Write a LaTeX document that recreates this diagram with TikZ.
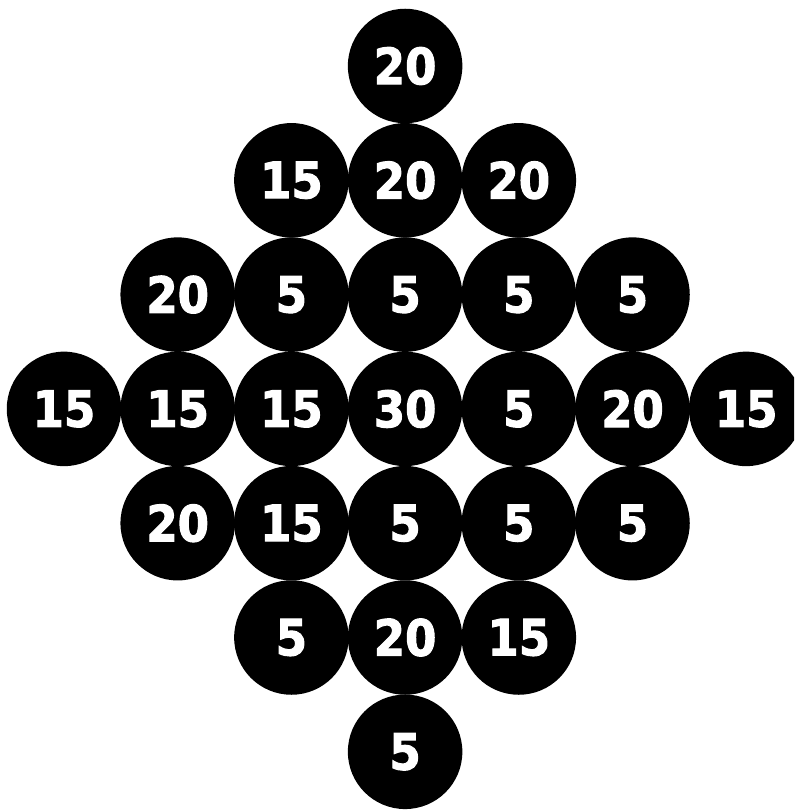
\documentclass[tikz,border=0pt]{standalone}
\usepackage{fontspec}
\newfontfamily\digitfont{DejaVu Sans Condensed}[BoldFeatures={FakeBold=2}]
\begin{document}
\begin{tikzpicture}[x=1pt,y=1pt,
  ball/.style={circle,fill=black,minimum size=114.5pt,inner sep=0pt,text=white,
    font=\digitfont\bfseries\fontsize{50}{50}\selectfont}]
\useasboundingbox (0,0) rectangle (794,-810);
\begin{scope}
\clip (0,0) rectangle (794,-810);
\foreach \r/\c/\v in {0/3/20,
  1/2/15,1/3/20,1/4/20,
  2/1/20,2/2/5,2/3/5,2/4/5,2/5/5,
  3/0/15,3/1/15,3/2/15,3/3/30,3/4/5,3/5/20,3/6/15,
  4/1/20,4/2/15,4/3/5,4/4/5,4/5/5,
  5/2/5,5/3/20,5/4/15,
  6/3/5}{
  \node[ball] (c-\r-\c) at ({64+113.7*\c},{-66-114.3*\r}) {\v};
}
\end{scope}
\end{tikzpicture}
\end{document}
